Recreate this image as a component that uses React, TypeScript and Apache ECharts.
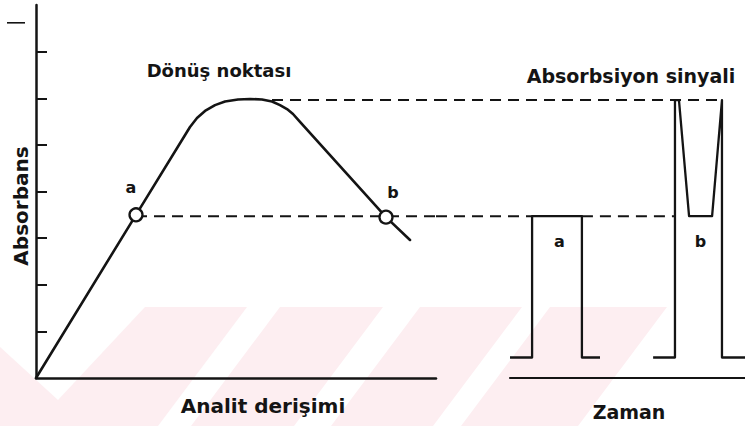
import React, { useEffect, useRef } from "react";
import * as echarts from "echarts";

// Left panel: absorbance vs analyte concentration
const concentration = [0, 2.5, 3.85, 4.025, 4.225, 4.475, 4.725, 5.05, 5.35, 5.65, 5.9, 6.1, 6.275, 6.425, 6.6, 8.75, 9.35];
const absorbance = [0, 3.5, 5.383, 5.576, 5.727, 5.853, 5.93, 5.973, 5.984, 5.973, 5.93, 5.853, 5.767, 5.662, 5.491, 3.45, 2.96];
const pointNames = ["a", "b"];
const pointConc = [2.5, 8.75];
const pointAbs = [3.5, 3.45];
const yTicks = [1, 2, 3, 4, 5, 6, 7];

// Levels projected to the right panel
const peakLevel = 5.96;
const pointLevel = 3.47;
const peakDashStart = 5.9;

// Right panel: signal vs time (the projection strip starts before time 0)
const timeStripStart = -3.15;
const timeMax = 10;
const signalATime = [0, 0.94, 0.94, 3.06, 3.06, 3.83];
const signalAValue = [0.44, 0.44, 3.47, 3.47, 0.44, 0.44];
const signalBTime = [6.09, 7.02, 7.02, 7.19, 7.62, 8.6, 9.02, 9.02, 10];
const signalBValue = [0.44, 0.44, 5.96, 5.96, 3.47, 3.47, 5.96, 0.44, 0.44];
const signalLabelTime = [2.1, 8.1];
const signalLabelValue = [2.92, 2.92];

const INK = "#141414";
const PINK = "#fdeef1";
const FONT = "DejaVu Sans, sans-serif";

const zip = (xs: number[], ys: number[]) => xs.map((x, i) => [x, ys[i]]);

export default function App() {
  const ref = useRef<HTMLDivElement>(null);
  useEffect(() => {
    if (!ref.current) return;
    const chart = echarts.init(ref.current, null, { renderer: "svg" });
    const dashed = { color: INK, width: 2, type: [11, 7] as any };
    const txt = (text: string, x: number, y: number, size: number, rotation = 0) => ({
      type: "text",
      x,
      y,
      rotation,
      z: 5,
      style: {
        text,
        fill: INK,
        font: `bold ${size}px ${FONT}`,
        align: "center",
        verticalAlign: "middle",
        textAlign: "center",
        textVerticalAlign: "middle",
      },
    });
    const poly = (points: number[][]) => ({
      type: "polygon",
      z: -10,
      shape: { points },
      style: { fill: PINK },
      silent: true,
    });
    const hiddenAxis = {
      axisLine: { show: false },
      axisTick: { show: false },
      axisLabel: { show: false },
      splitLine: { show: false },
    };
    chart.setOption({
      animation: false,
      backgroundColor: "#ffffff",
      graphic: [
        poly([[145, 307], [247, 307], [158, 426], [0, 426], [0, 347], [58, 400]]),
        poly([[280, 307], [383, 307], [294, 426], [191, 426]]),
        poly([[420, 307], [522, 307], [433, 426], [331, 426]]),
        poly([[550, 307], [667, 307], [578, 426], [461, 426]]),
        {
          type: "rect",
          z: 5,
          shape: { x: 7, y: 22, width: 18, height: 1.6 },
          style: { fill: INK },
        },
        txt("Dönüş noktası", 219, 70, 18),
        txt("Absorbsiyon sinyali", 631, 76, 19),
        txt("Absorbans", 21, 206, 20, Math.PI / 2),
        txt("Analit derişimi", 263, 406, 20),
        txt("Zaman", 629, 412, 19),
      ],
      grid: [
        { left: 36, top: 5, width: 400, height: 373 },
        { left: 436, top: 5, width: 309, height: 373 },
        { left: 510, top: 5, width: 235, height: 373 },
      ],
      xAxis: [
        {
          type: "value",
          gridIndex: 0,
          min: 0,
          max: 10,
          axisLine: { show: true, lineStyle: { color: INK, width: 2.5 } },
          axisTick: { show: false },
          axisLabel: { show: false },
          splitLine: { show: false },
        },
        {
          type: "value",
          gridIndex: 1,
          min: timeStripStart,
          max: timeMax,
          ...hiddenAxis,
        },
        {
          type: "value",
          gridIndex: 2,
          min: 0,
          max: timeMax,
          offset: 5,
          axisLine: { show: true, lineStyle: { color: INK, width: 2.2 } },
          axisTick: { show: false },
          axisLabel: { show: false },
          splitLine: { show: false },
        },
      ],
      yAxis: [
        {
          type: "value",
          gridIndex: 0,
          min: 0,
          max: 8,
          interval: 1,
          axisLine: { show: true, lineStyle: { color: INK, width: 2.5 } },
          axisTick: {
            show: true,
            inside: true,
            length: 11,
            customValues: yTicks,
            lineStyle: { color: INK, width: 2 },
          },
          axisLabel: { show: false },
          splitLine: { show: false },
        },
        { type: "value", gridIndex: 1, min: 0, max: 8, ...hiddenAxis },
        { type: "value", gridIndex: 2, min: 0, max: 8, ...hiddenAxis },
      ],
      series: [
        {
          type: "line",
          xAxisIndex: 0,
          yAxisIndex: 0,
          data: [[peakDashStart, peakLevel], [10, peakLevel]],
          symbol: "none",
          lineStyle: dashed,
          z: 1,
        },
        {
          type: "line",
          xAxisIndex: 0,
          yAxisIndex: 0,
          data: [[pointConc[0], pointLevel], [10, pointLevel]],
          symbol: "none",
          lineStyle: dashed,
          z: 1,
        },
        {
          type: "line",
          xAxisIndex: 1,
          yAxisIndex: 1,
          data: [[timeStripStart, peakLevel], [signalBTime[6], peakLevel]],
          symbol: "none",
          lineStyle: dashed,
          z: 1,
        },
        {
          type: "line",
          xAxisIndex: 1,
          yAxisIndex: 1,
          data: [[timeStripStart, pointLevel], [signalATime[1], pointLevel]],
          symbol: "none",
          lineStyle: dashed,
          z: 1,
        },
        {
          type: "line",
          xAxisIndex: 1,
          yAxisIndex: 1,
          data: [[signalATime[3], pointLevel], [signalBTime[1], pointLevel]],
          symbol: "none",
          lineStyle: dashed,
          z: 1,
        },
        {
          type: "line",
          xAxisIndex: 0,
          yAxisIndex: 0,
          data: zip(concentration, absorbance),
          symbol: "none",
          lineStyle: { color: INK, width: 2.6, join: "round", cap: "round" } as any,
          z: 3,
        },
        {
          type: "scatter",
          xAxisIndex: 0,
          yAxisIndex: 0,
          data: pointNames.map((n, i) => ({
            value: [pointConc[i], pointAbs[i]],
            name: n,
            label: { offset: i === 0 ? [-5, -4] : [7, -1] },
          })),
          symbol: "circle",
          symbolSize: 13,
          itemStyle: { color: "#ffffff", borderColor: INK, borderWidth: 2.3, opacity: 1 },
          label: {
            show: true,
            position: "top",
            distance: 8,
            formatter: "{b}",
            color: INK,
            fontFamily: FONT,
            fontWeight: "bold",
            fontSize: 16,
          },
          z: 4,
        },
        {
          type: "line",
          xAxisIndex: 2,
          yAxisIndex: 2,
          data: zip(signalATime, signalAValue),
          symbol: "none",
          lineStyle: { color: INK, width: 2.3, join: "round" } as any,
          z: 3,
        },
        {
          type: "line",
          xAxisIndex: 2,
          yAxisIndex: 2,
          data: zip(signalBTime, signalBValue),
          symbol: "none",
          lineStyle: { color: INK, width: 2.3, join: "round" } as any,
          z: 3,
        },
        {
          type: "scatter",
          xAxisIndex: 2,
          yAxisIndex: 2,
          data: pointNames.map((n, i) => ({
            value: [signalLabelTime[i], signalLabelValue[i]],
            name: n,
          })),
          symbolSize: 1,
          itemStyle: { opacity: 0 },
          label: {
            show: true,
            position: "inside",
            formatter: "{b}",
            color: INK,
            opacity: 1,
            fontFamily: FONT,
            fontWeight: "bold",
            fontSize: 16,
          },
          z: 4,
        },
      ],
    });
    return () => chart.dispose();
  }, []);
  return (
    <div
      ref={ref}
      style={{ position: "fixed", left: 0, top: 0, width: 745, height: 426, background: "#fff" }}
    />
  );
}
